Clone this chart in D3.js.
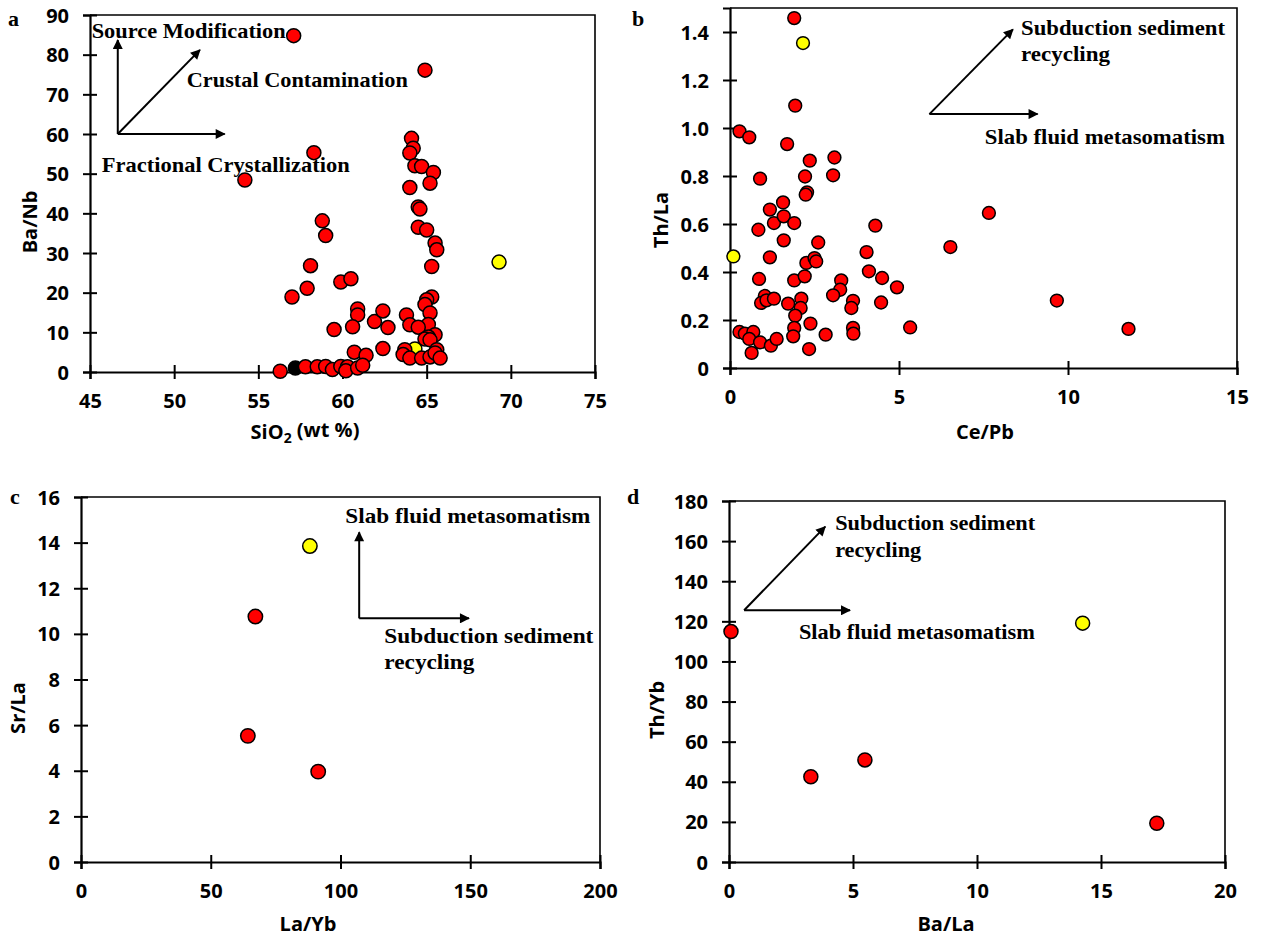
<!DOCTYPE html>
<html>
<head>
<meta charset="utf-8">
<script src="https://cdn.jsdelivr.net/npm/d3@7"></script>
<style>
  body { margin: 0; background: #fff; }
  svg { display: block; }
  .tick text { font-family: "Open Sans", sans-serif; font-weight: 700; font-size: 20px; fill: #000; }
  .ann { font-family: "Liberation Serif", "Times New Roman", serif; font-weight: 700; font-size: 22px; fill: #000; }
  .title { font-family: "Open Sans", sans-serif; font-weight: 700; font-size: 20px; fill: #000; }
  .plabel { font-family: "Liberation Serif", serif; font-weight: 700; font-size: 22px; }
</style>
</head>
<body>
<svg id="chart" width="1262" height="943"></svg>
<script>
// ---- data ----
// panel a: SiO2 (wt %) vs Ba/Nb
const aRed = [
  [57.1,84.8],[64.9,76.1],[58.3,55.3],[54.2,48.4],
  [64.1,58.9],[64.2,56.4],[64.0,55.2],[64.3,52.0],[64.7,51.8],[65.4,50.3],[65.2,47.6],
  [64.0,46.5],[64.5,41.6],[64.6,41.1],[64.5,36.5],[65.0,35.8],[65.5,32.5],[65.6,30.8],[65.3,26.6],
  [65.3,18.9],[65.0,18.2],[64.9,17.0],[65.2,14.9],[63.8,14.4],[64.0,11.9],[65.1,12.0],[64.5,11.3],
  [65.5,9.4],[65.1,8.8],[64.9,8.3],[65.2,8.1],[63.7,5.6],[63.6,4.4],[64.0,3.5],[64.7,3.5],
  [65.2,3.8],[65.6,5.6],[65.5,4.8],[65.8,3.5],
  [58.8,38.1],[59.0,34.4],[58.1,26.8],[57.9,21.1],[57.0,18.9],[59.9,22.7],[60.5,23.5],
  [60.9,15.9],[60.9,14.4],[61.9,12.7],[62.4,15.4],[62.7,11.2],[59.5,10.7],[60.6,11.4],
  [60.7,5.0],[61.4,4.2],[62.4,5.9],
  [56.3,0.2],[57.8,1.3],[58.5,1.3],[59.0,1.4],[59.4,0.6],[59.9,1.4],[60.3,1.3],[60.2,0.3],
  [60.9,1.0],[61.2,1.7]
];
const aYellow = [[64.3,5.8],[69.3,27.7]];
const aBlack = [[57.2,1.0]];
const aXTicks = [45,50,55,60,65,70,75];
const aYTicks = [0,10,20,30,40,50,60,70,80,90];

// panel b: Ce/Pb vs Th/La
const bRed = [
  [1.90,1.458],[1.93,1.093],[0.28,0.986],[0.57,0.961],[1.69,0.933],[2.36,0.864],[3.09,0.877],
  [0.89,0.789],[2.22,0.798],[3.05,0.803],[2.28,0.732],[2.24,0.722],[1.57,0.690],[1.18,0.660],
  [1.30,0.604],[1.59,0.632],[1.90,0.604],[0.84,0.576],[4.30,0.593],[1.59,0.532],[2.61,0.523],
  [1.18,0.461],[2.26,0.438],[2.50,0.458],[2.55,0.444],[4.04,0.483],[4.11,0.403],[4.50,0.375],
  [4.94,0.336],[0.86,0.371],[1.90,0.365],[2.21,0.382],[3.29,0.365],[3.26,0.326],[3.05,0.303],
  [1.03,0.300],[0.92,0.271],[1.08,0.282],[1.30,0.289],[1.72,0.268],[2.11,0.289],[2.09,0.250],
  [1.93,0.218],[3.64,0.280],[3.59,0.250],[4.47,0.273],[5.33,0.169],[2.38,0.185],[1.90,0.167],
  [1.87,0.132],[0.28,0.150],[0.44,0.143],[0.69,0.150],[0.57,0.121],[0.89,0.107],[1.21,0.093],
  [1.38,0.121],[0.64,0.063],[2.34,0.079],[2.83,0.139],[3.64,0.167],[3.65,0.143],
  [6.52,0.504],[7.66,0.646],[9.67,0.281],[11.79,0.163]
];
const bYellow = [[2.16,1.354],[0.10,0.465]];
const bXTicks = [0,5,10,15];
const bYTicks = [0,0.2,0.4,0.6,0.8,1.0,1.2,1.4];

// panel c: La/Yb vs Sr/La
const cRed = [[67.2,10.76],[64.3,5.53],[91.4,3.96]];
const cYellow = [[88.2,13.85]];
const cXTicks = [0,50,100,150,200];
const cYTicks = [0,2,4,6,8,10,12,14,16];

// panel d: Ba/La vs Th/Yb
const dRed = [[0.08,114.9],[3.30,42.5],[5.48,50.9],[17.25,19.3]];
const dYellow = [[14.26,119.1]];
const dXTicks = [0,5,10,15,20];
const dYTicks = [0,20,40,60,80,100,120,140,160,180];

const svg = d3.select("#chart");

svg.append("defs").append("marker")
  .attr("id","arrow").attr("viewBox","0 0 10 10")
  .attr("refX",9).attr("refY",5)
  .attr("markerWidth",5.5).attr("markerHeight",5)
  .attr("markerUnits","strokeWidth")
  .attr("orient","auto")
  .append("path").attr("d","M0,0 L10,5 L0,10 z").attr("fill","#000");

function drawPanel(p){
  const g = svg.append("g");
  const x = d3.scaleLinear().domain(p.xDomain).range(p.xRange);
  const y = d3.scaleLinear().domain(p.yDomain).range(p.yRange);
  const [x0,x1] = p.xRange, [y0,y1] = p.yRange;

  // top and right frame
  g.append("path")
    .attr("d", `M${x0},${y1}H${x1}V${y0}`)
    .attr("fill","none").attr("stroke","#000").attr("stroke-width",1.6);

  const xAxis = d3.axisBottom(x).tickValues(p.xTicks).tickSizeOuter(0).tickSize(7)
    .tickFormat(p.xFormat || (d => d));
  const gx = g.append("g").attr("transform",`translate(0,${y0})`).call(xAxis);
  gx.selectAll(".tick line").attr("y1",-7).attr("stroke-width",2);
  gx.selectAll(".tick text").attr("y",29).attr("dy","0.35em");

  const yAxis = d3.axisLeft(y).tickValues(p.yTicks).tickSizeOuter(0).tickSize(7)
    .tickFormat(p.yFormat || (d => d));
  const gy = g.append("g").attr("transform",`translate(${x0},0)`).call(yAxis);
  gy.selectAll(".tick line").attr("x1",7).attr("stroke-width",2);
  gy.selectAll(".tick text").attr("x",-21).attr("dy","0.35em");

  g.selectAll(".domain").attr("stroke-width",2.2);

  // annotation arrows
  p.arrows.forEach(a => {
    g.append("line")
      .attr("x1",x(a[0])).attr("y1",y(a[1]))
      .attr("x2",x(a[2])).attr("y2",y(a[3]))
      .attr("stroke","#000").attr("stroke-width",2)
      .attr("marker-end","url(#arrow)");
  });
  // annotation text
  p.notes.forEach(n => {
    g.append("text").attr("class","ann")
      .attr("x",x(n.x)).attr("y",y(n.y))
      .attr("textLength",n.w).attr("lengthAdjust","spacingAndGlyphs")
      .text(n.t);
  });

  // points
  p.series.forEach(s => {
    g.append("g").selectAll("circle").data(s.data).join("circle")
      .attr("cx",d => x(d[0])).attr("cy",d => y(d[1]))
      .attr("r",p.r)
      .attr("fill",s.color).attr("stroke","#000").attr("stroke-width",1.5);
  });

  // axis titles
  const xt = g.append("text").attr("class","title")
    .attr("x",p.xTitlePos[0]).attr("y",p.xTitlePos[1])
    .attr("text-anchor","middle").attr("dy","0.35em");
  if (p.xTitleSub) {
    xt.append("tspan").text(p.xTitle[0]);
    xt.append("tspan").attr("font-size","14px").attr("dy","0.3em").text(p.xTitleSub);
    xt.append("tspan").attr("dy","-0.3em").text(p.xTitle[1]);
  } else {
    xt.text(p.xTitle);
  }
  g.append("text").attr("class","title")
    .attr("transform",`translate(${p.yTitlePos[0]},${p.yTitlePos[1]}) rotate(-90)`)
    .attr("text-anchor","middle").attr("dy","0.35em")
    .text(p.yTitle);

  g.append("text").attr("class","plabel")
    .attr("x",p.label[1]).attr("y",p.label[2]).text(p.label[0]);
}

drawPanel({
  xDomain:[45,75], xRange:[90,595], yDomain:[0,90], yRange:[372,15],
  xTicks:aXTicks, yTicks:aYTicks, r:7,
  series:[{data:aYellow,color:"#ffff00"},{data:aBlack,color:"#000"},{data:aRed,color:"#ff0000"}],
  arrows:[[46.65,60,46.65,83.7],[46.65,60,51.53,81.2],[46.65,60,53.0,60]],
  notes:[
    {t:"Source Modification",x:45.1,y:84.3,w:194},
    {t:"Crustal Contamination",x:50.75,y:71.8,w:221},
    {t:"Fractional Crystallization",x:45.7,y:50.5,w:248}
  ],
  xTitle:["SiO"," (wt %)"], xTitleSub:"2", xTitlePos:[305,432],
  yTitle:"Ba/Nb", yTitlePos:[30,222],
  label:["a",8,26]
});

drawPanel({
  xDomain:[0,15], xRange:[730,1237], yDomain:[0,1.5], yRange:[368,8],
  xTicks:bXTicks, yTicks:bYTicks, r:6.4, yFormat: d => d === 0 ? "0" : d.toFixed(1),
  series:[{data:bYellow,color:"#ffff00"},{data:bRed,color:"#ff0000"}],
  arrows:[[5.90,1.058,8.37,1.411],[5.90,1.058,9.10,1.058]],
  notes:[
    {t:"Subduction sediment",x:8.61,y:1.3875,w:204},
    {t:"recycling",x:8.61,y:1.279,w:89},
    {t:"Slab fluid metasomatism",x:7.54,y:0.933,w:240}
  ],
  xTitle:"Ce/Pb", xTitlePos:[985,432],
  yTitle:"Th/La", yTitlePos:[661,220],
  label:["b",632,26]
});

drawPanel({
  xDomain:[0,200], xRange:[81,600], yDomain:[0,16], yRange:[862,497],
  xTicks:cXTicks, yTicks:cYTicks, r:7.2,
  series:[{data:cYellow,color:"#ffff00"},{data:cRed,color:"#ff0000"}],
  arrows:[[107.2,10.68,107.2,14.45],[107.2,10.68,149.5,10.68]],
  notes:[
    {t:"Slab fluid metasomatism",x:101.85,y:14.85,w:245},
    {t:"Subduction sediment",x:116.9,y:9.61,w:209},
    {t:"recycling",x:116.9,y:8.45,w:90}
  ],
  xTitle:"La/Yb", xTitlePos:[308,924],
  yTitle:"Sr/La", yTitlePos:[18,708],
  label:["c",10,504]
});

drawPanel({
  xDomain:[0,20], xRange:[729,1225], yDomain:[0,180], yRange:[862,501],
  xTicks:dXTicks, yTicks:dYTicks, r:7,
  series:[{data:dYellow,color:"#ffff00"},{data:dRed,color:"#ff0000"}],
  arrows:[[0.61,125.5,3.88,167.2],[0.61,125.5,4.88,125.5]],
  notes:[
    {t:"Subduction sediment",x:4.28,y:165.3,w:200},
    {t:"recycling",x:4.28,y:152.2,w:86},
    {t:"Slab fluid metasomatism",x:2.82,y:111.3,w:236}
  ],
  xTitle:"Ba/La", xTitlePos:[946,924],
  yTitle:"Th/Yb", yTitlePos:[657,710],
  label:["d",627,504]
});
</script>
</body>
</html>
